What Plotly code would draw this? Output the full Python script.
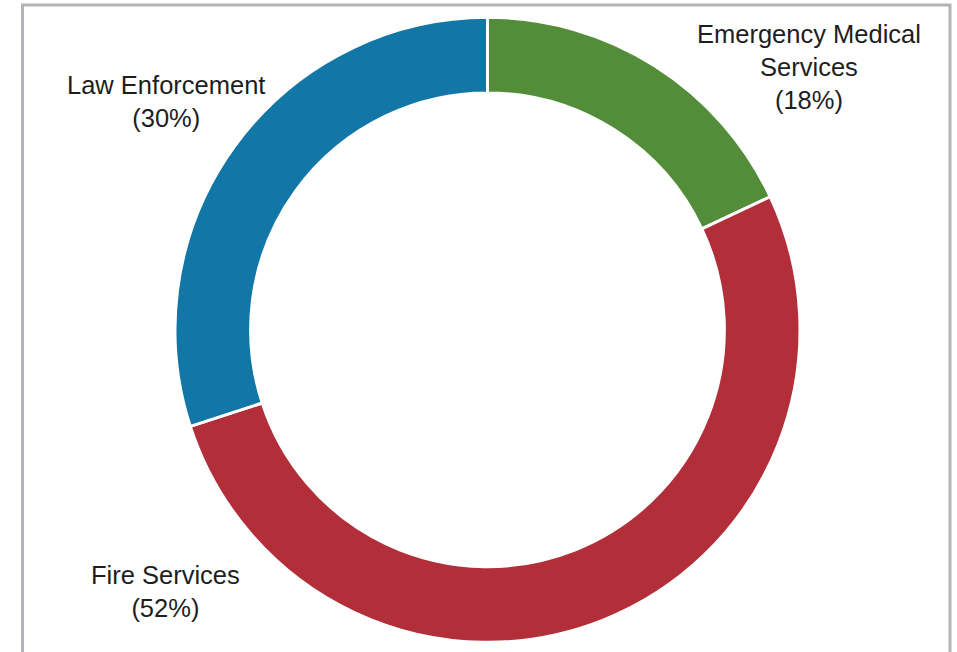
import plotly.graph_objects as go

categories = ["Emergency Medical<br>Services", "Fire Services", "Law Enforcement"]
values = [18, 52, 30]
colors = ["#548d3a", "#b22e38", "#1277a6"]

W, H = 957, 652

# pie geometry (pixels)
cx, cy, R = 487.5, 329.8, 312.5

def px(x):
    return x / W

def py(y):
    return 1 - y / H

fig = go.Figure()
fig.add_trace(go.Pie(
    labels=categories,
    values=values,
    sort=False,
    direction="clockwise",
    rotation=0,
    hole=0.758,
    marker=dict(colors=colors, line=dict(color="white", width=3)),
    textinfo="none",
    hoverinfo="label+percent",
    showlegend=False,
    domain=dict(x=[px(cx - R), px(cx + R)], y=[py(cy + R), py(cy - R)]),
))

# label positions (pixel centres of text blocks)
label_pos = [(808.5, 67), (165, 591), (165.5, 102)]
total = sum(values)
for cat, v, (lx, ly) in zip(categories, values, label_pos):
    fig.add_annotation(
        x=px(lx), y=py(ly), xref="paper", yref="paper",
        text=f"{cat}<br>({round(100 * v / total)}%)",
        showarrow=False, xanchor="center", yanchor="middle", align="center",
        font=dict(family="Liberation Sans, Arial, sans-serif", size=25.5, color="#1e1e1e"),
    )

# frame
fig.add_shape(type="rect", xref="paper", yref="paper",
              x0=px(22.5), x1=px(950), y0=-0.1, y1=py(5),
              line=dict(color="#b4b4b8", width=3), fillcolor="rgba(0,0,0,0)")

fig.update_layout(
    width=W, height=H,
    margin=dict(l=0, r=0, t=0, b=0),
    paper_bgcolor="white", plot_bgcolor="white",
)

fig.write_html(
    "out.html",
    config={"displayModeBar": False},
    post_script="document.body.style.margin='0';document.body.style.overflow='hidden';",
)
